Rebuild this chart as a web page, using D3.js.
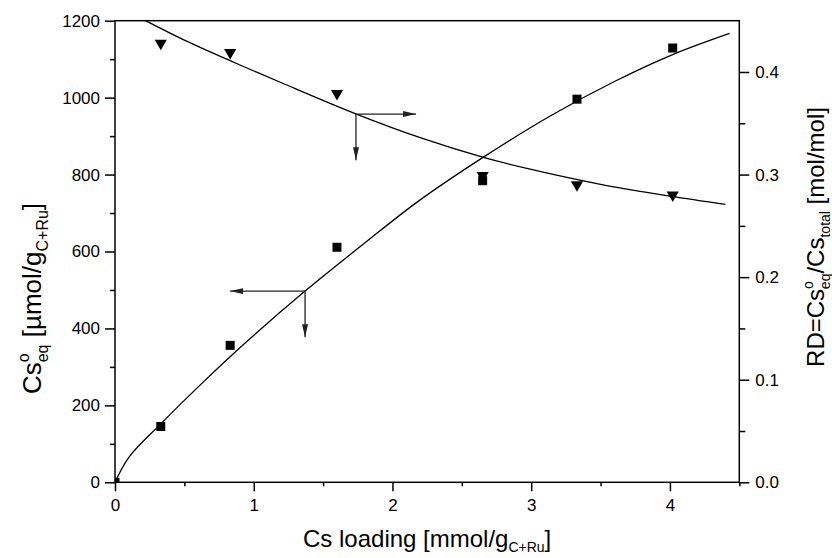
<!DOCTYPE html>
<html>
<head>
<meta charset="utf-8">
<script src="https://cdn.jsdelivr.net/npm/d3@7"></script>
<style>
  body { margin: 0; background: #fff; }
  text { font-family: "Liberation Sans", Arial, sans-serif; fill: #000; }
</style>
</head>
<body>
<svg id="chart" width="832" height="558"></svg>
<script>
// Measured equilibrium Cs concentration (left axis)
const loading = [0, 0.33, 0.83, 1.60, 2.65, 3.33, 4.02];
const csEq = [0, 145, 356, 611, 784, 996, 1129];

// Measured distribution ratio RD (right axis)
const rdLoading = [0.33, 0.83, 1.60, 2.65, 3.33, 4.02];
const rdValues = [0.428, 0.419, 0.379, 0.299, 0.290, 0.280];

// Fitted curves
const csFitX = [0, 0.10, 0.33, 0.60, 0.96, 1.37, 1.80, 2.18, 2.65, 3.14, 3.60, 4.02, 4.43];
const csFitY = [0, 65, 152, 248, 369, 497, 622, 729, 844, 953, 1042, 1112, 1167];
const rdFitX = [0.22, 0.50, 0.83, 1.20, 1.74, 2.20, 2.65, 3.00, 3.50, 4.00, 4.40];
const rdFitY = [0.450, 0.431, 0.411, 0.3895, 0.359, 0.336, 0.317, 0.305, 0.2905, 0.279, 0.271];

// Axis ticks
const xTicks = [0, 1, 2, 3, 4];
const xMinor = [0.5, 1.5, 2.5, 3.5, 4.5];
const leftTicks = [0, 200, 400, 600, 800, 1000, 1200];
const leftMinor = [100, 300, 500, 700, 900, 1100];
const rightTicks = [0, 0.1, 0.2, 0.3, 0.4];
const rightMinor = [0.05, 0.15, 0.25, 0.35];

// Axis-pointer arrows: corner on each curve, horizontal and vertical heads
const leftArrow = { x: 1.37, y: 497, xEnd: 0.83, yEnd: 377 };
const rightArrow = { x: 1.737, y: 0.359, xEnd: 2.17, yEnd: 0.314 };

const svg = d3.select("#chart");
const L = 115, R = 739.3, T = 20.7, B = 482.3;

const x = d3.scaleLinear().domain([0, 4.5]).range([L, R]);
const yL = d3.scaleLinear().domain([0, 1200]).range([B, T]);
const yR = d3.scaleLinear().domain([0, 0.45]).range([B, T]);

const defs = svg.append("defs");
defs.append("clipPath").attr("id", "plotclip")
  .append("rect").attr("x", L).attr("y", T).attr("width", R - L).attr("height", B - T);
defs.append("marker").attr("id", "head")
  .attr("viewBox", "0 0 13 6").attr("refX", 13).attr("refY", 3)
  .attr("markerWidth", 13).attr("markerHeight", 6)
  .attr("markerUnits", "userSpaceOnUse").attr("orient", "auto")
  .append("path").attr("d", "M0,0 L13,3 L0,6 Z").attr("fill", "#222");

// Axes
function styleAxis(g) {
  g.selectAll(".domain").remove();
  g.selectAll(".tick line").attr("stroke", "#000").attr("stroke-width", 1.5);
  g.selectAll("text").style("font-size", "17px").attr("fill", "#000");
}

svg.append("g").attr("transform", `translate(0,${B})`)
  .call(d3.axisBottom(x).tickValues(xMinor).tickSize(4).tickFormat(""))
  .call(styleAxis);
svg.append("g").attr("transform", `translate(0,${B})`)
  .call(d3.axisBottom(x).tickValues(xTicks).tickSize(9).tickPadding(8).tickFormat(d3.format("d")))
  .call(styleAxis);

svg.append("g").attr("transform", `translate(${L},0)`)
  .call(d3.axisLeft(yL).tickValues(leftMinor).tickSize(5).tickFormat(""))
  .call(styleAxis);
svg.append("g").attr("transform", `translate(${L},0)`)
  .call(d3.axisLeft(yL).tickValues(leftTicks).tickSize(10).tickPadding(5).tickFormat(d3.format("d")))
  .call(styleAxis);

svg.append("g").attr("transform", `translate(${R},0)`)
  .call(d3.axisRight(yR).tickValues(rightMinor).tickSize(6).tickFormat(""))
  .call(styleAxis);
svg.append("g").attr("transform", `translate(${R},0)`)
  .call(d3.axisRight(yR).tickValues(rightTicks).tickSize(10).tickPadding(6).tickFormat(d3.format(".1f")))
  .call(styleAxis);

// Frame
svg.append("rect").attr("x", L).attr("y", T).attr("width", R - L).attr("height", B - T)
  .attr("fill", "none").attr("stroke", "#000").attr("stroke-width", 1.5);

// Fitted curves
const plot = svg.append("g").attr("clip-path", "url(#plotclip)");
const csLine = d3.line().x(d => x(d[0])).y(d => yL(d[1])).curve(d3.curveCatmullRom);
const rdLine = d3.line().x(d => x(d[0])).y(d => yR(d[1])).curve(d3.curveCatmullRom);
plot.append("path").datum(d3.zip(csFitX, csFitY)).attr("d", csLine)
  .attr("fill", "none").attr("stroke", "#000").attr("stroke-width", 1.3);
plot.append("path").datum(d3.zip(rdFitX, rdFitY)).attr("d", rdLine)
  .attr("fill", "none").attr("stroke", "#000").attr("stroke-width", 1.3);

// Markers
const sq = 9;
plot.selectAll("rect.cs").data(d3.zip(loading, csEq)).join("rect")
  .attr("class", "cs")
  .attr("x", d => x(d[0]) - sq / 2).attr("y", d => yL(d[1]) - sq / 2)
  .attr("width", sq).attr("height", sq).attr("fill", "#000");

const tri = d3.symbol().type(d3.symbolTriangle).size(64);
plot.selectAll("path.rd").data(d3.zip(rdLoading, rdValues)).join("path")
  .attr("class", "rd")
  .attr("d", tri)
  .attr("transform", d => `translate(${x(d[0])},${yR(d[1])}) rotate(180)`)
  .attr("fill", "#000");

// Arrows pointing to the axis each curve belongs to
function drawArrow(a, yScale) {
  const cx = x(a.x), cy = yScale(a.y);
  svg.append("line").attr("x1", cx).attr("y1", cy).attr("x2", x(a.xEnd)).attr("y2", cy)
    .attr("stroke", "#222").attr("stroke-width", 1.3).attr("marker-end", "url(#head)");
  svg.append("line").attr("x1", cx).attr("y1", cy).attr("x2", cx).attr("y2", yScale(a.yEnd))
    .attr("stroke", "#222").attr("stroke-width", 1.3).attr("marker-end", "url(#head)");
}
drawArrow(leftArrow, yL);
drawArrow(rightArrow, yR);

// Axis titles
const tSize = 24, sSize = 14;
const xt = svg.append("text").attr("x", (L + R) / 2).attr("y", 547)
  .attr("text-anchor", "middle").style("font-size", tSize + "px");
xt.append("tspan").text("Cs loading [mmol/g");
xt.append("tspan").attr("dy", 5).style("font-size", sSize + "px").text("C+Ru");
xt.append("tspan").attr("dy", -5).text("]");

const ySize = 26, ySub = 16;
const yt = svg.append("text").attr("transform", `translate(41,394) rotate(-90)`)
  .attr("text-anchor", "start").style("font-size", ySize + "px");
yt.append("tspan").text("Cs");
yt.append("tspan").attr("dy", -12).style("font-size", ySub + "px").text("o");
yt.append("tspan").attr("dx", -9).attr("dy", 19).style("font-size", ySub + "px").text("eq");
yt.append("tspan").attr("dy", -7).text(" [µmol/g");
yt.append("tspan").attr("dy", 7).style("font-size", ySub + "px").text("C+Ru");
yt.append("tspan").attr("dy", -7).text("]");

const rt = svg.append("text").attr("transform", `translate(824,237) rotate(-90)`)
  .attr("text-anchor", "middle").style("font-size", tSize + "px");
rt.append("tspan").text("RD=Cs");
rt.append("tspan").attr("dy", -11).style("font-size", sSize + "px").text("o");
rt.append("tspan").attr("dx", -8).attr("dy", 17).style("font-size", sSize + "px").text("eq");
rt.append("tspan").attr("dy", -6).text("/Cs");
rt.append("tspan").attr("dy", 6).style("font-size", sSize + "px").text("total");
rt.append("tspan").attr("dy", -6).text(" [mol/mol]");
</script>
</body>
</html>
